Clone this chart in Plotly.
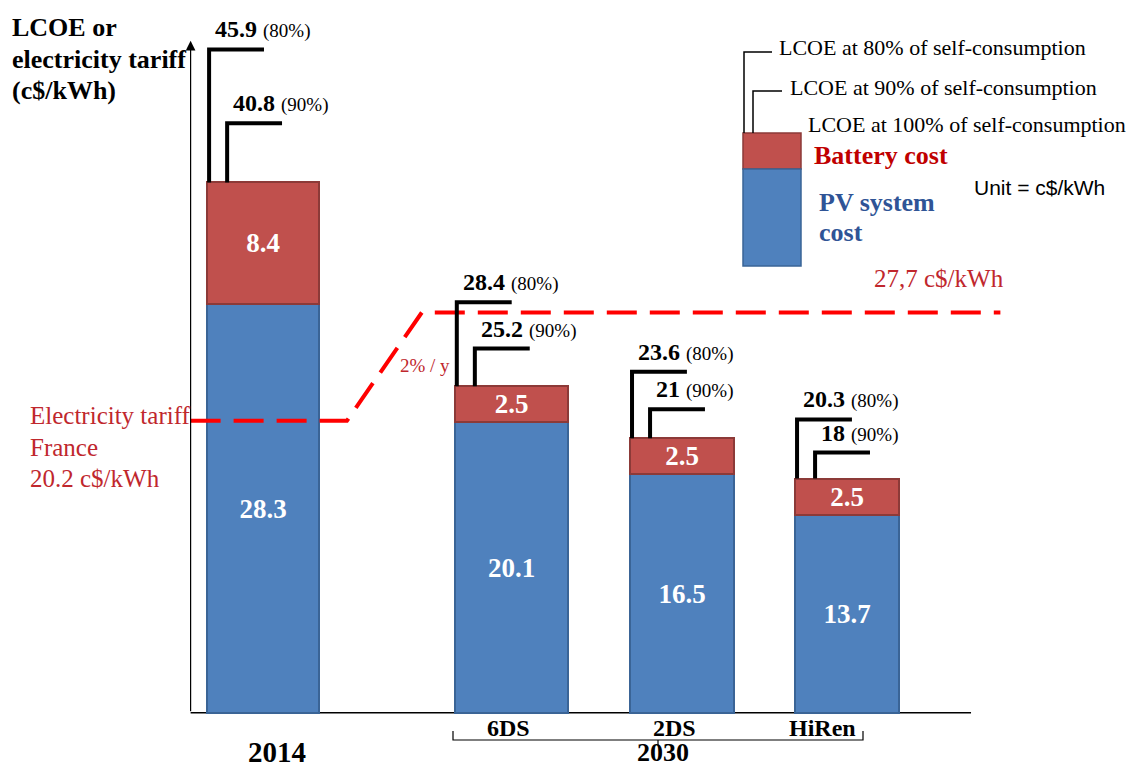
import plotly.graph_objects as go

# ---------------- data ----------------
categories = ["2014", "6DS", "2DS", "HiRen"]
pv_cost = [28.3, 20.1, 16.5, 13.7]
battery_cost = [8.4, 2.5, 2.5, 2.5]
lcoe_80 = [45.9, 28.4, 23.6, 20.3]
lcoe_90 = [40.8, 25.2, 21, 18]
tariff_2014 = 20.2
tariff_2030 = 27.7
group_label = "2030"

# ---------------- layout constants ----------------
PAGE_OFF = 8                      # default body margin of the html page
W, H = 1137 - 2 * PAGE_OFF, 776 - 2 * PAGE_OFF
X_POS = [0.0, 2.214, 3.736, 5.209]          # bar centres (axis units)
BAR_W = [1.0, 1.006, 0.922, 0.922]           # bar widths (axis units)
X_RANGE = [-2.280, 7.726]
Y_RANGE = [-3.827, 48.77]
AXIS_X = -0.65
AXIS_END_X = 6.316
AXIS_TOP_Y = 46.5
TARIFF_X = [AXIS_X, 0.745, 1.414, 6.578]
BRACKET_LEN = 0.49
BRACKET_OFF = [0.015, 0.176]
LABEL_XSHIFT = [14, -3, -7, -25]

SERIF = "Liberation Serif"
SANS = "Liberation Sans"
RED_TXT = "#c0272d"
BLUE_TXT = "#2f5496"
PV_FILL, PV_LINE = "#4f81bd", "#3a6496"
BAT_FILL, BAT_LINE = "#c0504d", "#8c3a38"


def fx(px):
    return (px - PAGE_OFF) / W


def fy(py):
    return 1 - (py - PAGE_OFF) / H


def fmt(v):
    return f"{v:g}"


fig = go.Figure()

fig.add_trace(go.Bar(
    x=X_POS, y=pv_cost, width=BAR_W,
    marker=dict(color=PV_FILL, line=dict(color=PV_LINE, width=2)),
    text=[f"<b>{fmt(v)}</b>" for v in pv_cost],
    textposition="inside", insidetextanchor="middle", textangle=0,
    constraintext="none",
    textfont=dict(family=SERIF, size=27, color="white"),
    hoverinfo="skip", showlegend=False,
))
fig.add_trace(go.Bar(
    x=X_POS, y=battery_cost, width=BAR_W,
    marker=dict(color=BAT_FILL, line=dict(color=BAT_LINE, width=2)),
    text=[f"<b>{fmt(v)}</b>" for v in battery_cost],
    textposition="inside", insidetextanchor="middle", textangle=0,
    constraintext="none",
    textfont=dict(family=SERIF, size=27, color="white"),
    hoverinfo="skip", showlegend=False,
))

# electricity tariff dashed line
fig.add_trace(go.Scatter(
    x=TARIFF_X,
    y=[tariff_2014, tariff_2014, tariff_2030, tariff_2030],
    mode="lines",
    line=dict(color="#ff0000", width=4, dash="30px,13px"),
    hoverinfo="skip", showlegend=False,
))

annotations = []

# LCOE brackets
for i in range(len(categories)):
    left = X_POS[i] - BAR_W[i] / 2
    top = pv_cost[i] + battery_cost[i]
    for off, val, pct in ((BRACKET_OFF[0], lcoe_80[i], "80%"),
                          (BRACKET_OFF[1], lcoe_90[i], "90%")):
        vx = left + off
        fig.add_trace(go.Scatter(
            x=[vx, vx, vx + BRACKET_LEN], y=[top, val, val],
            mode="lines", line=dict(color="black", width=4),
            hoverinfo="skip", showlegend=False,
        ))
        annotations.append(dict(
            x=vx, y=val, xref="x", yref="y", xanchor="left", yanchor="middle",
            xshift=4, yshift=20, showarrow=False,
            text=f"<b>{fmt(val)}</b> <span style='font-size:19px'>({pct})</span>",
            font=dict(family=SERIF, size=24, color="black"),
        ))

# category labels
for i, c in enumerate(categories):
    if i == 0:
        annotations.append(dict(
            x=X_POS[i], y=0, xref="x", yref="y", yanchor="middle",
            xshift=LABEL_XSHIFT[i], yshift=-39, showarrow=False,
            text=f"<b>{c}</b>", font=dict(family=SERIF, size=29, color="black")))
    else:
        annotations.append(dict(
            x=X_POS[i], y=0, xref="x", yref="y", yanchor="middle",
            xshift=LABEL_XSHIFT[i], yshift=-15, showarrow=False,
            text=f"<b>{c}</b>", font=dict(family=SERIF, size=24, color="black")))

annotations.append(dict(
    x=fx(663), y=fy(752), xref="paper", yref="paper", yanchor="middle",
    showarrow=False, text=f"<b>{group_label}</b>",
    font=dict(family=SERIF, size=26, color="black")))

# y-axis arrow
annotations.append(dict(
    x=AXIS_X, y=AXIS_TOP_Y, ax=AXIS_X, ay=0, xref="x", yref="y",
    axref="x", ayref="y", text="", showarrow=True,
    arrowhead=2, arrowsize=1.6, arrowwidth=1.2, arrowcolor="black"))

# axis title
for txt, cy in (("LCOE or", 28), ("electricity tariff", 59), ("(c$/kWh)", 90)):
    annotations.append(dict(
        x=fx(10), y=fy(cy), xref="paper", yref="paper", xanchor="left",
        yanchor="middle", showarrow=False, text=f"<b>{txt}</b>",
        font=dict(family=SERIF, size=26, color="black")))

# tariff texts
for txt, cy in (("Electricity tariff", 415), ("France", 447),
                (f"{fmt(tariff_2014)} c$/kWh", 478)):
    annotations.append(dict(
        x=fx(28), y=fy(cy), xref="paper", yref="paper", xanchor="left",
        yanchor="middle", showarrow=False, text=txt,
        font=dict(family=SERIF, size=25, color=RED_TXT)))
annotations.append(dict(
    x=fx(872), y=fy(278), xref="paper", yref="paper", xanchor="left",
    yanchor="middle", showarrow=False,
    text=f"{fmt(tariff_2030).replace('.', ',')} c$/kWh",
    font=dict(family=SERIF, size=25, color=RED_TXT)))
annotations.append(dict(
    x=fx(425), y=fy(365), xref="paper", yref="paper", xanchor="center",
    yanchor="middle", showarrow=False, text="2% / y",
    font=dict(family=SERIF, size=19, color=RED_TXT)))

# legend texts
for txt, lx, cy in (("LCOE at 80% of self-consumption", 777, 48),
                    ("LCOE at 90% of self-consumption", 788, 87),
                    ("LCOE at 100% of self-consumption", 806, 125)):
    annotations.append(dict(
        x=fx(lx), y=fy(cy), xref="paper", yref="paper", xanchor="left",
        yanchor="middle", showarrow=False, text=txt,
        font=dict(family=SERIF, size=22, color="black")))
annotations.append(dict(
    x=fx(812), y=fy(155), xref="paper", yref="paper", xanchor="left",
    yanchor="middle", showarrow=False, text="<b>Battery cost</b>",
    font=dict(family=SERIF, size=26, color="#c00000")))
for txt, cy in (("PV system", 202), ("cost", 232)):
    annotations.append(dict(
        x=fx(817), y=fy(cy), xref="paper", yref="paper", xanchor="left",
        yanchor="middle", showarrow=False, text=f"<b>{txt}</b>",
        font=dict(family=SERIF, size=26, color=BLUE_TXT)))
annotations.append(dict(
    x=fx(972), y=fy(188), xref="paper", yref="paper", xanchor="left",
    yanchor="middle", showarrow=False, text="Unit = c$/kWh",
    font=dict(family=SANS, size=21, color="black")))

shapes = []
# x-axis line
shapes.append(dict(type="line", xref="x", yref="y", x0=AXIS_X, x1=AXIS_END_X,
                   y0=0, y1=0, line=dict(color="black", width=1.5), layer="below"))
# legend key
shapes.append(dict(type="rect", xref="paper", yref="paper",
                   x0=fx(743), x1=fx(801), y0=fy(169), y1=fy(133),
                   fillcolor=BAT_FILL, line=dict(color=BAT_LINE, width=1.5)))
shapes.append(dict(type="rect", xref="paper", yref="paper",
                   x0=fx(743), x1=fx(801), y0=fy(266), y1=fy(169),
                   fillcolor=PV_FILL, line=dict(color=PV_LINE, width=1.5)))
shapes.append(dict(type="path", xref="paper", yref="paper",
                   path=f"M {fx(744)},{fy(133)} L {fx(744)},{fy(52)} L {fx(772)},{fy(52)}",
                   line=dict(color="black", width=1.5)))
shapes.append(dict(type="path", xref="paper", yref="paper",
                   path=f"M {fx(753)},{fy(133)} L {fx(753)},{fy(91)} L {fx(782)},{fy(91)}",
                   line=dict(color="black", width=1.5)))
# 2030 brace
shapes.append(dict(type="path", xref="paper", yref="paper",
                   path=(f"M {fx(453)},{fy(731)} L {fx(453)},{fy(740)} "
                         f"L {fx(863)},{fy(740)} L {fx(863)},{fy(731)}"),
                   line=dict(color="black", width=1.2)))
shapes.append(dict(type="line", xref="paper", yref="paper",
                   x0=fx(658), x1=fx(658), y0=fy(740), y1=fy(745),
                   line=dict(color="black", width=1.2)))

fig.update_layout(
    width=W, height=H, autosize=False,
    margin=dict(l=0, r=0, t=0, b=0, pad=0),
    paper_bgcolor="white", plot_bgcolor="white",
    barmode="stack", bargap=0,
    xaxis=dict(range=X_RANGE, visible=False, fixedrange=True),
    yaxis=dict(range=Y_RANGE, visible=False, fixedrange=True),
    annotations=annotations, shapes=shapes,
    showlegend=False,
)

fig.write_html("out.html")
